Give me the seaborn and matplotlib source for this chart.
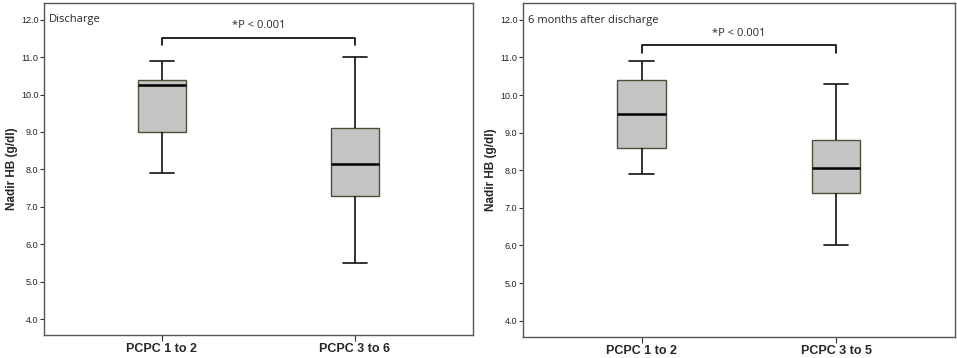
import matplotlib
matplotlib.use("Agg")
import matplotlib.pyplot as plt
import seaborn as sns
import pandas as pd

# five-number summaries: low whisker, Q1, median, Q3, high whisker
groups_discharge = ["PCPC 1 to 2", "PCPC 3 to 6"]
discharge_g1 = [7.9, 9.0, 10.25, 10.4, 10.9]
discharge_g2 = [5.5, 7.3, 8.15, 9.1, 11.0]

groups_6m = ["PCPC 1 to 2", "PCPC 3 to 5"]
sixm_g1 = [7.9, 8.6, 9.5, 10.4, 10.9]
sixm_g2 = [6.0, 7.4, 8.05, 8.8, 10.3]

y_ticks = [4.0, 5.0, 6.0, 7.0, 8.0, 9.0, 10.0, 11.0, 12.0]
p_text = "*P < 0.001"

sns.set_style("ticks")
plt.rcParams["font.family"] = ["Liberation Sans", "DejaVu Sans"]

fig = plt.figure(figsize=(9.57, 3.58), dpi=100)
ax1 = fig.add_axes([0.046, 0.064, 0.448, 0.928])
ax2 = fig.add_axes([0.5465, 0.059, 0.451, 0.933])


def panel(ax, groups, g1, g2, title, bracket_y, text_y):
    df = pd.DataFrame({
        "group": [groups[0]] * len(g1) + [groups[1]] * len(g2),
        "hb": g1 + g2,
    })
    sns.boxplot(data=df, x="group", y="hb", ax=ax, whis=(0, 100), width=0.25,
                color="#c4c4c4", linecolor="#4f4f3a", linewidth=1.0,
                medianprops=dict(color="black", linewidth=1.8),
                whiskerprops=dict(color="#111111", linewidth=1.2),
                capprops=dict(color="#111111", linewidth=1.2),
                showfliers=False)
    ax.set_xlim(-0.61, 1.61)
    ax.set_ylim(3.57, 12.45)
    ax.set_yticks(y_ticks)
    ax.set_yticklabels([f"{t:.1f}" for t in y_ticks], fontsize=6.5, color="#222222")
    ax.tick_params(axis="y", length=3, width=0.8, pad=1, color="#333333")
    ax.tick_params(axis="x", length=4, width=0.8, pad=2, color="#333333")
    for lab in ax.get_xticklabels():
        lab.set_fontweight("bold")
        lab.set_fontsize(9)
    ax.set_xlabel("")
    ax.set_ylabel("Nadir HB (g/dl)", fontsize=8.5, fontweight="bold", labelpad=2)
    for sp in ax.spines.values():
        sp.set_visible(True)
        sp.set_color("#555555")
        sp.set_linewidth(1.0)
    ax.text(0.012, 0.965, title, transform=ax.transAxes, ha="left", va="top",
            fontsize=8, family=["Open Sans", "DejaVu Sans"])
    # significance bracket between the two groups
    ax.plot([0, 0, 1, 1], [bracket_y - 0.2, bracket_y, bracket_y, bracket_y - 0.2],
            color="black", linewidth=1.2)
    ax.text(0.5, text_y, p_text, ha="center", va="center", fontsize=8,
            family=["Open Sans", "DejaVu Sans"])


panel(ax1, groups_discharge, discharge_g1, discharge_g2, "Discharge", 11.52, 11.85)
panel(ax2, groups_6m, sixm_g1, sixm_g2, "6 months after discharge", 11.33, 11.64)

fig.savefig("out.png", dpi=100)
